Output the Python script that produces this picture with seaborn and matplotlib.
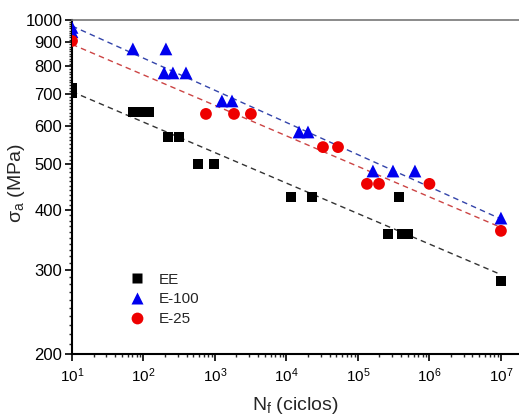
import numpy as np
import pandas as pd
import matplotlib
matplotlib.use("Agg")
import matplotlib.pyplot as plt
import seaborn as sns
from matplotlib.ticker import FixedLocator, FixedFormatter, NullFormatter, LogFormatterMathtext

# ---- data ----
ee_n = [10, 10, 71, 92, 119, 220, 314, 578, 968, 11600, 22800, 374000, 263000, 410000, 500000, 1.0e7]
ee_s = [720, 705, 642, 642, 642, 569, 569, 500, 500, 426, 426, 426, 357, 357, 357, 284]

e100_n = [10, 10, 71, 206, 194, 258, 393, 1250, 1730, 15000, 20000, 162000, 309000, 627000, 1.0e7]
e100_s = [965, 945, 870, 870, 775, 775, 775, 677, 677, 583, 583, 483, 483, 483, 385]

e25_n = [10, 748, 1845, 3180, 32400, 52600, 133600, 197000, 1.0e6, 1.0e7]
e25_s = [904, 636, 636, 636, 542, 542, 454, 454, 454, 362]

series_labels = ["EE", "E-100", "E-25"]
y_ticks = [200, 300, 400, 500, 600, 700, 800, 900, 1000]
x_ticks = [1e1, 1e2, 1e3, 1e4, 1e5, 1e6, 1e7]

sns.set_theme(style="white")
plt.rcParams['font.family'] = ['Liberation Sans', 'DejaVu Sans']
plt.rcParams['mathtext.fontset'] = 'custom'
plt.rcParams['mathtext.rm'] = 'Liberation Sans'
plt.rcParams['mathtext.it'] = 'Liberation Sans'

df = pd.concat([
    pd.DataFrame({"N": ee_n, "S": ee_s, "grp": series_labels[0]}),
    pd.DataFrame({"N": e100_n, "S": e100_s, "grp": series_labels[1]}),
    pd.DataFrame({"N": e25_n, "S": e25_s, "grp": series_labels[2]}),
])

fig = plt.figure(figsize=(5.19, 4.19), dpi=100)
ax = fig.add_axes([72/519, 1-354/419, 1-72/519, (354-20)/419])

colors = {"EE": "black", "E-100": "#0000ee", "E-25": "#ee0000"}
markers = {"EE": "s", "E-100": "^", "E-25": "o"}
sizes = {"EE": 52, "E-100": 85, "E-25": 72}
line_colors = {"EE": "#333333", "E-100": "#3344aa", "E-25": "#cc4444"}

# fitted power-law lines (log-log regression)
xfit = np.array([10, 1e7])
for g, (n, s) in zip(series_labels, [(ee_n, ee_s), (e100_n, e100_s), (e25_n, e25_s)]):
    b, a = np.polyfit(np.log10(n), np.log10(s), 1)
    yfit = 10 ** (a + b * np.log10(xfit))
    sns.lineplot(x=xfit, y=yfit, ax=ax, color=line_colors[g], lw=1.0,
                 linestyle=(0, (4, 3)), legend=False, zorder=2)

sns.scatterplot(data=df, x="N", y="S", hue="grp", style="grp", size="grp",
                palette=colors, markers=markers, sizes=sizes, edgecolor="none",
                ax=ax, zorder=3, legend=True)

ax.set_xscale("log")
ax.set_yscale("log")
ax.set_xlim(10, 1.79e7)
ax.set_ylim(200, 1000)

ax.yaxis.set_major_locator(FixedLocator(y_ticks))
ax.yaxis.set_major_formatter(FixedFormatter([str(v) for v in y_ticks]))
ax.yaxis.set_minor_locator(FixedLocator([v for v in range(200, 1001, 10) if v not in y_ticks]))
ax.yaxis.set_minor_formatter(NullFormatter())

ax.xaxis.set_major_locator(FixedLocator(x_ticks))
ax.xaxis.set_major_formatter(LogFormatterMathtext())
ax.xaxis.set_minor_locator(FixedLocator([m * 10**e for e in range(1, 7) for m in range(2, 10)]))
ax.xaxis.set_minor_formatter(NullFormatter())

ax.tick_params(axis="both", which="major", direction="out", length=5, width=1.2,
               colors="black", left=True, bottom=True)
ax.tick_params(axis="y", which="major", labelsize=12, pad=2)
ax.tick_params(axis="x", which="major", labelsize=11, pad=4)
ax.tick_params(axis="both", which="minor", direction="out", length=2.5, width=1.0,
               left=True, bottom=True)

for sp in ["left", "bottom"]:
    ax.spines[sp].set_color("black")
    ax.spines[sp].set_linewidth(1.5)
ax.spines["top"].set_color("#777777")
ax.spines["top"].set_linewidth(1.2)
ax.spines["right"].set_visible(False)

ax.set_xlabel(r"N$_\mathregular{f}$ (ciclos)", fontsize=14, labelpad=7)
ax.set_ylabel(r"$\mathregular{\sigma_a}$ (MPa)", fontsize=14)
ax.yaxis.set_label_coords(-0.10, 0.51)

leg = ax.legend(loc="upper left", bbox_to_anchor=(0.098, 0.262), frameon=False,
                fontsize=11, handletextpad=0.4, labelspacing=0.38,
                borderaxespad=0, title=None)

fig.savefig("out.png", dpi=100)
